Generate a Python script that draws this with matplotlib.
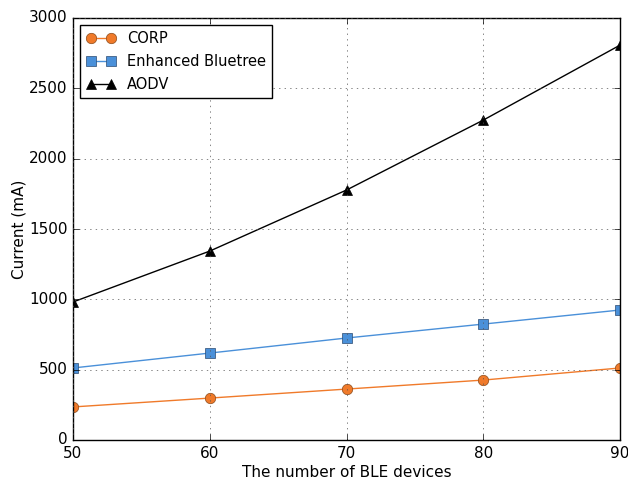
import matplotlib
matplotlib.use("Agg")
import matplotlib.pyplot as plt

plt.style.use('classic')

devices = [50, 60, 70, 80, 90]
corp = [235, 298, 362, 426, 512]
bluetree = [512, 618, 725, 824, 924]
aodv = [981, 1343, 1777, 2274, 2807]

fig = plt.figure(figsize=(6.28, 4.79), dpi=100, facecolor='white')
ax = fig.add_axes([73/628, 1-440/479, (620-73)/628, (440-18)/479])

ax.plot(devices, corp, '-o', color='#f07a2a', markerfacecolor='#f07a2a',
        markeredgecolor='#8a4a1a', markersize=7.5, label='CORP')
ax.plot(devices, bluetree, '-s', color='#4a90d9', markerfacecolor='#4a90d9',
        markeredgecolor='#2a4a70', markersize=7, label='Enhanced Bluetree')
ax.plot(devices, aodv, '-^', color='black', markerfacecolor='black',
        markersize=7.5, label='AODV')

ax.set_xlim(50, 90)
ax.set_ylim(0, 3000)
ax.set_xticks([50, 60, 70, 80, 90])
ax.set_yticks([0, 500, 1000, 1500, 2000, 2500, 3000])
ax.grid(True, linestyle=':', color='#555555')
ax.set_xlabel('The number of BLE devices', fontsize=11, labelpad=3)
ax.set_ylabel('Current (mA)', fontsize=11, labelpad=2)
ax.tick_params(labelsize=11)
leg = ax.legend(loc='upper left', fontsize=10.5, numpoints=2, frameon=True,
                borderaxespad=0.5, labelspacing=0.55)
fig.savefig('out.png', dpi=100, facecolor='white')
